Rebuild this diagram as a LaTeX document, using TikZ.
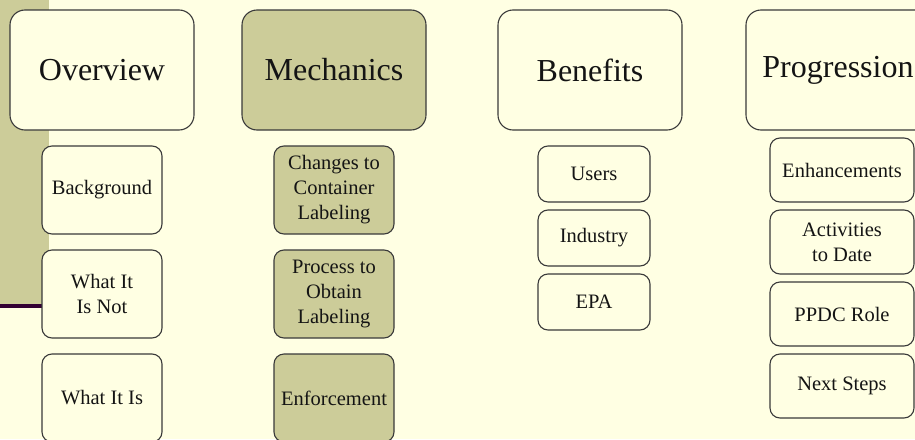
\documentclass[tikz,border=0pt]{standalone}
\usepackage{fontspec}
\setmainfont{Liberation Serif}
\definecolor{bgc}{HTML}{FFFFE3}
\definecolor{olive}{HTML}{CCCC99}
\definecolor{plum}{HTML}{330033}
\definecolor{edge}{HTML}{3A3A3A}
\definecolor{ink}{HTML}{141414}
\begin{document}
\begin{tikzpicture}[x=1pt,y=-1pt,
  bigbox/.style={draw=edge, line width=1.1pt, rounded corners=15pt, inner sep=0pt,
    text=ink, font=\fontsize{32}{36}\selectfont, align=center},
  subbox/.style={draw=edge, line width=1.1pt, rounded corners=10pt, inner sep=0pt,
    text=ink, font=\fontsize{20.5}{25}\selectfont, align=center}]
\useasboundingbox (0,0) rectangle (915,439);
\fill[bgc] (0,0) rectangle (915,439);
\fill[olive] (0,0) rectangle (49,304);
\fill[plum] (0,304) rectangle (60,308);
% big boxes
\node[bigbox, fill=bgc, minimum width=184pt, minimum height=120pt] (ov) at (102,70) {Overview};
\node[bigbox, fill=olive, minimum width=184pt, minimum height=120pt] (me) at (334,70) {Mechanics};
\node[bigbox, fill=bgc, minimum width=184pt, minimum height=120pt] (be) at (590,70) {Benefits};
\node[bigbox, fill=bgc, minimum width=184pt, minimum height=120pt] (pr) at (838,70) {\raisebox{3pt}{Progression}};
% overview column
\node[subbox, fill=bgc, minimum width=120pt, minimum height=88pt] (bg) at (102,190) {Background};
\node[subbox, fill=bgc, minimum width=120pt, minimum height=88pt] (wn) at (102,294) {What It\\Is Not};
\node[subbox, fill=bgc, minimum width=120pt, minimum height=88pt] (wi) at (102,398) {What It Is};
% mechanics column
\node[subbox, fill=olive, minimum width=120pt, minimum height=88pt] (cc) at (334,190) {Changes to\\Container\\Labeling};
\node[subbox, fill=olive, minimum width=120pt, minimum height=88pt] (po) at (334,294) {Process to\\Obtain\\Labeling};
\node[subbox, fill=olive, minimum width=120pt, minimum height=88pt] (en) at (334,398) {Enforcement};
% benefits column
\node[subbox, fill=bgc, minimum width=112pt, minimum height=56pt] (us) at (594,174) {Users};
\node[subbox, fill=bgc, minimum width=112pt, minimum height=56pt] (in) at (594,238) {Industry};
\node[subbox, fill=bgc, minimum width=112pt, minimum height=56pt] (ep) at (594,302) {EPA};
% progression column
\node[subbox, fill=bgc, minimum width=144pt, minimum height=64pt] (eh) at (842,170) {Enhancements};
\node[subbox, fill=bgc, minimum width=144pt, minimum height=64pt] (ad) at (842,242) {Activities\\to Date};
\node[subbox, fill=bgc, minimum width=144pt, minimum height=64pt] (pp) at (842,314) {PPDC Role};
\node[subbox, fill=bgc, minimum width=144pt, minimum height=64pt] (ns) at (842,386) {Next Steps};
\end{tikzpicture}
\end{document}
